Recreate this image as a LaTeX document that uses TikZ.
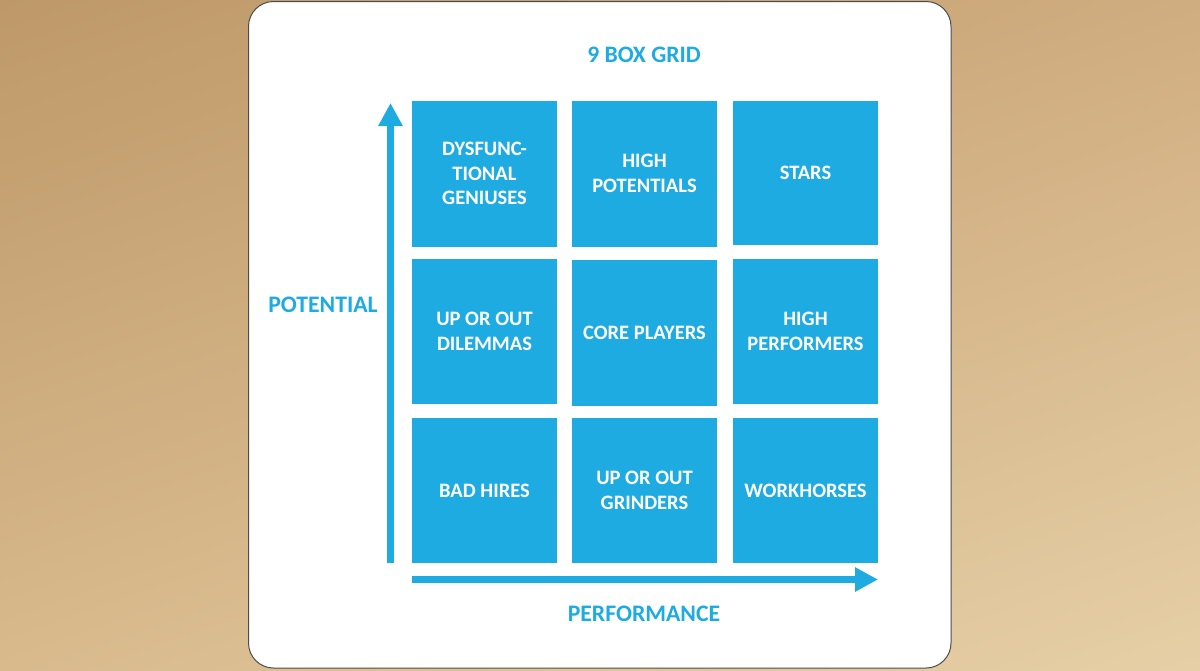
\documentclass[tikz,border=0pt]{standalone}
\usepackage{fontspec}
\setmainfont{Carlito}
\usepackage{xcolor}
\usepackage{tikz}
\usetikzlibrary{arrows.meta}
\usetikzlibrary{shadings}
\usetikzlibrary{positioning}

\definecolor{gridblue}{HTML}{1EABE1}
\definecolor{bgtl}{HTML}{BE9868}
\definecolor{bgtr}{HTML}{D0AD80}
\definecolor{bgbl}{HTML}{D8BA8D}
\definecolor{bgbr}{HTML}{E6CFA6}

\tikzset{
    gridbox/.style={rectangle,fill=gridblue,text=white,align=center,inner sep=0pt,
        minimum width=145pt,minimum height=146pt,
        font=\bfseries\fontsize{20.5}{24.5}\selectfont},
    axislabel/.style={text=gridblue,font=\bfseries\fontsize{23.7}{28}\selectfont},
    axisarrow/.style={draw=gridblue,line width=7pt,-{Triangle[length=23pt,width=23pt]}}
}

\begin{document}
\begin{tikzpicture}[x=1pt,y=-1pt]
        \useasboundingbox (0,0) rectangle (1200,670);
        \shade[upper left=bgtl,upper right=bgtr,lower left=bgbl,lower right=bgbr] (0,0) rectangle (1200,670);
        \draw[draw=gray!60!black,fill=white,line width=1pt,rounded corners=25pt] (248.5,1.5) rectangle (951,668);

        \node[text=gridblue,font=\bfseries\fontsize{23.6}{28}\selectfont] (title) at (644,55) {9 BOX GRID};

        \node[gridbox] (dysfunc) at (484.5,173.5) {DYSFUNC-\\TIONAL\\GENIUSES};
        \node[gridbox] (highpot) at (644.5,173.5) {HIGH\\POTENTIALS};
        \node[gridbox,minimum height=144pt] (stars) at (805.5,172.5) {STARS};

        \node[gridbox,minimum height=145pt] (dilemmas) at (484.5,331.5) {UP OR OUT\\DILEMMAS};
        \node[gridbox] (core) at (644.5,333) {CORE PLAYERS};
        \node[gridbox,minimum height=145pt] (highperf) at (805.5,331.5) {HIGH\\PERFORMERS};

        \node[gridbox,minimum height=145pt] (badhires) at (484.5,490.5) {BAD HIRES};
        \node[gridbox,minimum height=145pt] (grinders) at (644.5,490.5) {UP OR OUT\\GRINDERS};
        \node[gridbox,minimum height=145pt] (workhorses) at (805.5,490.5) {WORKHORSES};

        \coordinate (vstart) at (390.5,563);
        \coordinate (vend) at (390.5,103);
        \coordinate (hstart) at (412,579.5);
        \coordinate (hend) at (878,579.5);

        \draw[axisarrow] (vstart)--(vend);
        \draw[axisarrow] (hstart)--(hend);

        \node[axislabel] (potential) at (323,305) {POTENTIAL};
        \node[axislabel] (performance) at (644,614) {PERFORMANCE};
    \end{tikzpicture}
\end{document}
